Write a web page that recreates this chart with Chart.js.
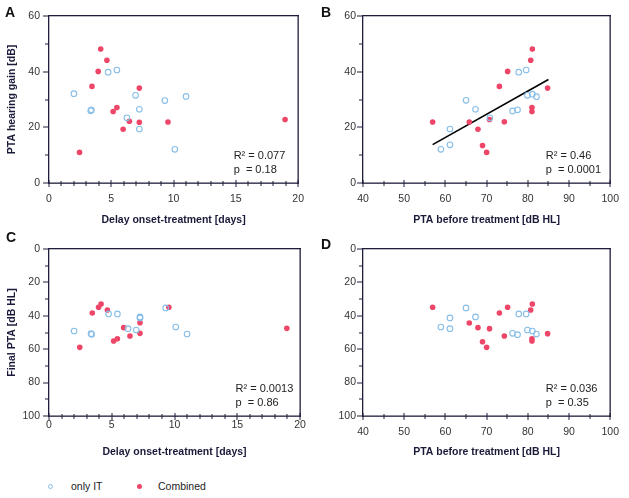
<!DOCTYPE html>
<html lang="en">
<head>
    <meta charset="UTF-8">
    <title>PTA scatter panels</title>
    <script src="https://cdn.jsdelivr.net/npm/chart.js"></script>
    <style>
        body {
            margin: 0;
            background: #fff;
            font-family: "Liberation Sans", Arial, sans-serif;
        }

        .page {
            position: relative;
            width: 629px;
            height: 498px;
        }

        canvas {
            position: absolute;
        }

        .letter {
            position: absolute;
            font-weight: bold;
            font-size: 14px;
            color: #111;
        }

        .legend-item {
            position: absolute;
            font-size: 10.5px;
            color: #222;
            line-height: 12px;
        }

        .marker {
            position: absolute;
            width: 5px;
            height: 5px;
            border-radius: 50%;
            box-sizing: border-box;
        }
    </style>
</head>
<body>
<div class="page">
    <canvas id="chartA" width="314" height="232" style="left:0;top:0"></canvas>
    <canvas id="chartB" width="315" height="232" style="left:314px;top:0"></canvas>
    <canvas id="chartC" width="314" height="232" style="left:0;top:232px"></canvas>
    <canvas id="chartD" width="315" height="232" style="left:314px;top:232px"></canvas>
    <div class="letter" style="left:5px;top:4px">A</div>
    <div class="letter" style="left:321px;top:4px">B</div>
    <div class="letter" style="left:6px;top:229px">C</div>
    <div class="letter" style="left:321px;top:236px">D</div>
    <div id="legend"></div>
</div>

<script>
    const seriesNames = ['only IT', 'Combined'];

    // A: delay vs hearing gain
    const aItX = [2.0, 3.35, 3.4, 4.75, 5.45, 6.25, 6.95, 7.25, 7.25, 9.3, 10.1, 11.0];
    const aItY = [32.1, 26.0, 26.3, 39.8, 40.6, 23.4, 31.5, 26.5, 19.4, 29.6, 12.1, 31.1];
    const aComX = [2.45, 3.45, 3.95, 4.15, 4.65, 5.15, 5.45, 5.95, 6.45, 7.25, 7.25, 9.55, 18.95];
    const aComY = [11.0, 34.7, 40.1, 48.1, 44.1, 25.7, 27.1, 19.3, 22.2, 34.1, 21.8, 21.9, 22.8];

    // B: PTA before vs hearing gain
    const bItX = [58.9, 61.1, 61.1, 65.0, 67.3, 70.8, 76.3, 77.5, 77.8, 79.6, 79.9, 81.1, 82.1];
    const bItY = [12.1, 19.4, 13.7, 29.7, 26.5, 23.4, 25.9, 26.3, 39.8, 40.6, 31.5, 31.9, 31.0];
    const bComX = [56.9, 65.8, 67.9, 69.0, 70.0, 70.7, 73.1, 74.3, 75.1, 80.7, 81.1, 81.0, 81.0, 84.8];
    const bComY = [21.9, 21.9, 19.3, 13.5, 11.0, 22.8, 34.7, 22.0, 40.1, 44.1, 48.1, 27.1, 25.7, 34.1];
    const fitX = [56.9, 85.0];
    const fitY = [13.8, 37.2];

    // C: delay vs final PTA
    const cItX = [2.0, 3.35, 3.4, 4.75, 5.45, 6.3, 6.95, 7.25, 7.25, 9.3, 10.1, 11.0];
    const cItY = [49.1, 50.7, 51.1, 38.9, 38.9, 47.7, 48.5, 40.7, 41.3, 35.3, 46.7, 50.9];
    const cComX = [2.45, 3.45, 3.95, 4.15, 4.65, 5.15, 5.45, 5.95, 6.45, 7.25, 7.25, 9.55, 18.95];
    const cComY = [58.9, 38.3, 34.9, 32.9, 36.5, 55.1, 53.7, 47.1, 52.1, 44.1, 50.5, 34.9, 47.5];

    // D: PTA before vs final PTA
    const dItX = [58.9, 61.1, 61.1, 65.0, 67.3, 76.3, 77.5, 77.8, 79.6, 79.9, 81.1, 82.1];
    const dItY = [46.7, 41.3, 47.7, 35.3, 40.7, 50.5, 51.3, 38.9, 38.9, 48.5, 49.1, 50.9];
    const dComX = [56.9, 65.8, 67.9, 69.0, 70.0, 70.7, 73.1, 74.3, 75.1, 80.7, 81.1, 81.0, 81.0, 84.8];
    const dComY = [34.9, 44.3, 47.1, 55.5, 58.9, 47.7, 38.3, 52.1, 34.9, 36.5, 32.9, 53.7, 55.1, 50.7];

    const statsA = ['R\u00b2 = 0.077', 'p  = 0.18'];
    const statsB = ['R\u00b2 = 0.46', 'p  = 0.0001'];
    const statsC = ['R\u00b2 = 0.0013', 'p  = 0.86'];
    const statsD = ['R\u00b2 = 0.036', 'p  = 0.35'];

    const blue = 'rgb(135, 190, 232)';
    const red = 'rgb(238, 70, 104)';
    const frameColor = '#1e1e3c';

    Chart.defaults.font.family = '"Liberation Sans", Arial, sans-serif';

    function pts(xs, ys) {
        return xs.map((x, i) => ({x: x, y: ys[i]}));
    }

    // frame, tick marks and the R²/p text (lines drawn as thin filled rects)
    const framePlugin = {
        id: 'framePlugin',
        afterDraw(chart, args, opts) {
            const {ctx, chartArea: a, scales} = chart;
            const L = Math.round(a.left), R = Math.round(a.right);
            const T = Math.round(a.top), B = Math.round(a.bottom);
            ctx.save();
            ctx.globalAlpha = 1;
            ctx.fillStyle = frameColor;
            ctx.fillRect(L - 1, T - 1, R - L + 2, 1.3);
            ctx.fillRect(L - 1, B - 0.5, R - L + 2, 1.3);
            ctx.fillRect(L - 1, T - 1, 1.3, B - T + 2);
            ctx.fillRect(R - 0.5, T - 1, 1.3, B - T + 2);
            scales.x.ticks.forEach(t => {
                const px = Math.round(scales.x.getPixelForValue(t.value));
                const major = t.value % opts.xMajor === 0;
                const h = major ? 3 : 2;
                ctx.fillRect(px - 0.5, B - h, 1, 2 * h + 1);
            });
            scales.y.ticks.forEach(t => {
                const py = Math.round(scales.y.getPixelForValue(t.value));
                const w = t.value % 20 === 0 ? 6 : 4;
                ctx.fillRect(L - w, py - 0.5, w, 1);
            });
            ctx.fillStyle = '#222';
            ctx.font = '11px "Liberation Sans", Arial, sans-serif';
            ctx.textBaseline = 'middle';
            ctx.fillText(opts.stats[0], a.right - 64.5, a.bottom - 27);
            ctx.fillText(opts.stats[1], a.right - 64.5, a.bottom - 13);
            ctx.restore();
        }
    };

    function makePanel(id, o) {
        const datasets = [
            {
                label: seriesNames[0],
                data: pts(o.itX, o.itY),
                pointStyle: 'circle',
                pointRadius: 2.8,
                pointBorderWidth: 1.1,
                borderColor: blue,
                backgroundColor: 'rgba(0,0,0,0)'
            },
            {
                label: seriesNames[1],
                data: pts(o.comX, o.comY),
                pointRadius: 2.8,
                pointBorderWidth: 0,
                borderColor: red,
                backgroundColor: red
            }
        ];
        if (o.fit) {
            datasets.push({
                label: 'fit',
                data: pts(o.fit[0], o.fit[1]),
                showLine: true,
                borderColor: '#000',
                borderWidth: 1.6,
                pointRadius: 0
            });
        }
        const titleFont = {size: 10.5, weight: 'bold', lineHeight: 1.2};
        const tickFont = {size: 10.5, lineHeight: 1.2};
        return new Chart(document.getElementById(id), {
            type: 'scatter',
            data: {datasets: datasets},
            options: {
                responsive: false,
                animation: false,
                layout: {
                    autoPadding: false,
                    padding: {left: 0, top: o.top, right: o.right, bottom: 0}
                },
                scales: {
                    x: {
                        type: 'linear',
                        min: o.xMin,
                        max: o.xMax,
                        grid: {display: false, drawTicks: false},
                        border: {display: false},
                        ticks: {
                            stepSize: o.xStep,
                            autoSkip: false,
                            maxRotation: 0,
                            padding: o.xPad,
                            color: '#333',
                            font: tickFont,
                            callback: v => v % o.xMajor === 0 ? v : ''
                        },
                        title: {
                            display: true,
                            text: o.xTitle,
                            color: '#1a1a3a',
                            font: titleFont,
                            padding: {top: 0, bottom: 5.7}
                        },
                        afterFit: s => { s.height = o.xHeight; }
                    },
                    y: {
                        type: 'linear',
                        min: 0,
                        max: o.yMax,
                        reverse: o.reverse,
                        grid: {display: false, drawTicks: false},
                        border: {display: false},
                        ticks: {
                            stepSize: 10,
                            autoSkip: false,
                            padding: o.yPad,
                            color: '#333',
                            font: tickFont,
                            callback: v => v % 20 === 0 ? v : ''
                        },
                        title: {
                            display: !!o.yTitle,
                            text: o.yTitle || '',
                            color: '#1a1a3a',
                            font: titleFont,
                            padding: {top: 5.4, bottom: 0}
                        },
                        afterFit: s => { s.width = 49; }
                    }
                },
                plugins: {
                    legend: {display: false},
                    tooltip: {enabled: false},
                    framePlugin: {stats: o.stats, xMajor: o.xMajor}
                }
            },
            plugins: [framePlugin]
        });
    }

    makePanel('chartA', {
        itX: aItX, itY: aItY, comX: aComX, comY: aComY, stats: statsA,
        xMin: 0, xMax: 20, xStep: 1, xMajor: 5, xPad: 10, xHeight: 49,
        yMax: 60, reverse: false, yPad: 9, top: 16, right: 14,
        xTitle: 'Delay onset-treatment [days]', yTitle: 'PTA hearing gain [dB]'
    });
    makePanel('chartB', {
        itX: bItX, itY: bItY, comX: bComX, comY: bComY, stats: statsB, fit: [fitX, fitY],
        xMin: 40, xMax: 100, xStep: 5, xMajor: 10, xPad: 10, xHeight: 49,
        yMax: 60, reverse: false, yPad: 7, top: 16, right: 14,
        xTitle: 'PTA before treatment [dB HL]'
    });
    makePanel('chartC', {
        itX: cItX, itY: cItY, comX: cComX, comY: cComY, stats: statsC,
        xMin: 0, xMax: 20, xStep: 1, xMajor: 5, xPad: 3, xHeight: 48,
        yMax: 100, reverse: true, yPad: 9, top: 17, right: 14,
        xTitle: 'Delay onset-treatment [days]', yTitle: 'Final PTA [dB HL]'
    });
    makePanel('chartD', {
        itX: dItX, itY: dItY, comX: dComX, comY: dComY, stats: statsD,
        xMin: 40, xMax: 100, xStep: 5, xMajor: 10, xPad: 10, xHeight: 48,
        yMax: 100, reverse: true, yPad: 7, top: 17, right: 14,
        xTitle: 'PTA before treatment [dB HL]'
    });

    // shared legend under the panels
    const legend = document.getElementById('legend');
    const legendPos = [{marker: 48, text: 71}, {marker: 137, text: 158}];
    seriesNames.forEach((name, i) => {
        const m = document.createElement('div');
        m.className = 'marker';
        m.style.left = legendPos[i].marker + 'px';
        m.style.top = '484px';
        if (i === 0) {
            m.style.border = '1px solid ' + blue;
        } else {
            m.style.background = red;
        }
        legend.appendChild(m);
        const t = document.createElement('div');
        t.className = 'legend-item';
        t.style.left = legendPos[i].text + 'px';
        t.style.top = '480px';
        t.textContent = name;
        legend.appendChild(t);
    });
</script>
</body>
</html>
